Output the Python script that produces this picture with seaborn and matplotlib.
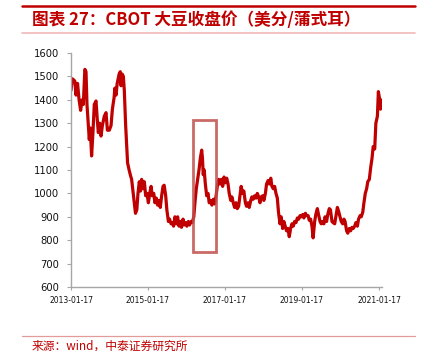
import numpy as np
import pandas as pd
import matplotlib
matplotlib.use("Agg")
import matplotlib.pyplot as plt
import matplotlib.dates as mdates
from matplotlib.lines import Line2D
from matplotlib.patches import Rectangle
import seaborn as sns

# ---------------- data ----------------
start_date = "2013-01-17"
# time offsets (years since start_date) and CBOT soybean close (cents/bushel)
years_offset = [
    0.000, 0.035, 0.100, 0.130, 0.170, 0.210, 0.250, 0.290, 0.320, 0.360,
    0.390, 0.415, 0.450, 0.475, 0.500, 0.535, 0.570, 0.605, 0.650, 0.685,
    0.710, 0.745, 0.780, 0.815, 0.865, 0.910, 0.945, 0.995, 1.040, 1.075,
    1.120, 1.140, 1.170, 1.200, 1.250, 1.280, 1.300, 1.330, 1.360, 1.385,
    1.420, 1.450, 1.470, 1.510, 1.540, 1.575, 1.610, 1.645, 1.675, 1.710,
    1.740, 1.775, 1.805, 1.835, 1.870, 1.905, 1.940, 1.975, 2.010, 2.045,
    2.080, 2.110, 2.150, 2.180, 2.215, 2.250, 2.285, 2.320, 2.355, 2.390,
    2.420, 2.460, 2.490, 2.530, 2.560, 2.600, 2.630, 2.665, 2.700, 2.735,
    2.770, 2.805, 2.840, 2.870, 2.910, 2.940, 2.980, 3.010, 3.050, 3.080,
    3.120, 3.150, 3.190, 3.220, 3.255, 3.290, 3.325, 3.360, 3.395, 3.415,
    3.435, 3.460, 3.490, 3.525, 3.560, 3.590, 3.630, 3.660, 3.700, 3.730,
    3.770, 3.800, 3.835, 3.870, 3.905, 3.940, 3.975, 4.010, 4.045, 4.080,
    4.110, 4.150, 4.180, 4.215, 4.250, 4.285, 4.320, 4.355, 4.390, 4.420,
    4.460, 4.490, 4.530, 4.560, 4.600, 4.630, 4.670, 4.700, 4.735, 4.770,
    4.805, 4.840, 4.875, 4.910, 4.940, 4.980, 5.010, 5.050, 5.080, 5.120,
    5.150, 5.190, 5.220, 5.255, 5.290, 5.325, 5.360, 5.390, 5.430, 5.460,
    5.500, 5.530, 5.565, 5.600, 5.635, 5.670, 5.705, 5.740, 5.775, 5.810,
    5.845, 5.880, 5.915, 5.950, 5.980, 6.020, 6.050, 6.090, 6.120, 6.160,
    6.190, 6.225, 6.260, 6.290, 6.330, 6.360, 6.400, 6.430, 6.470, 6.500,
    6.535, 6.570, 6.600, 6.640, 6.670, 6.710, 6.740, 6.780, 6.810, 6.850,
    6.880, 6.920, 6.950, 6.990, 7.020, 7.060, 7.090, 7.120, 7.160, 7.190,
    7.230, 7.265, 7.300, 7.330, 7.370, 7.400, 7.440, 7.470, 7.510, 7.540,
    7.580, 7.610, 7.645, 7.680, 7.710, 7.750, 7.785, 7.820, 7.850, 7.890,
    7.920, 7.960, 7.985, 8.010, 8.040, 8.050, 8.070,
]
prices = [
    1440, 1490, 1480, 1420, 1470, 1400, 1355, 1400, 1380, 1530,
    1520, 1380, 1290, 1230, 1280, 1160, 1260, 1380, 1395, 1310,
    1260, 1300, 1245, 1290, 1330, 1345, 1270, 1270, 1290, 1360,
    1410, 1450, 1420, 1470, 1510, 1520, 1460, 1510, 1500, 1440,
    1290, 1190, 1130, 1100, 1080, 1060, 1010, 960, 915, 930,
    1000, 1050, 1010, 1060, 1020, 1050, 990, 1000, 960, 1000,
    1030, 990, 1000, 960, 980, 950, 970, 940, 990, 1030,
    1035, 990, 930, 880, 890, 870, 875, 860, 900, 870,
    900, 860, 880, 855, 890, 865, 875, 860, 880, 865,
    880, 875, 900, 960, 1020, 1060, 1100, 1150, 1185, 1150,
    1080, 1100, 1040, 990, 1000, 960, 970, 950, 975, 955,
    990, 1030, 1060, 1040, 1060, 1030, 1070, 1045, 1065, 1040,
    1000, 970, 985, 960, 940, 960, 935, 945, 990, 1030,
    1000, 1010, 960, 945, 960, 940, 970, 985, 975, 990,
    980, 1000, 985, 960, 985, 990, 970, 1000, 1040, 1055,
    1040, 1065, 1030, 1020, 1030, 1000, 980, 920, 870, 900,
    850, 880, 860, 840, 850, 815, 850, 870, 860, 880,
    875, 895, 890, 905, 900, 910, 895, 915, 905, 905,
    885, 890, 860, 810, 880, 910, 935, 910, 880, 870,
    880, 870, 900, 880, 910, 935, 930, 880, 875, 870,
    900, 940, 925, 900, 880, 870, 890, 880, 840, 830,
    850, 840, 855, 850, 860, 875, 860, 890, 905, 900,
    920, 960, 1000, 1020, 1050, 1060, 1110, 1150, 1200, 1190,
    1300, 1330, 1435, 1410, 1360, 1400, 1385,
]
x_tick_labels = ["2013-01-17", "2015-01-17", "2017-01-17", "2019-01-17", "2021-01-17"]
y_ticks = [600, 700, 800, 900, 1000, 1100, 1200, 1300, 1400, 1500, 1600]
x_end = "2021-02-15"
# highlighted window
box_start, box_end = "2016-03-20", "2016-10-21"
box_low, box_high = 748, 1313

title = "图表 27：CBOT 大豆收盘价（美分/蒲式耳）"
source = "来源：wind，中泰证券研究所"

# ---------------- plot ----------------
sns.set_theme(style="white")
plt.rcParams["font.family"] = ["Noto Sans CJK SC", "DejaVu Sans"]

dates = pd.Timestamp(start_date) + pd.to_timedelta(np.array(years_offset) * 365.25, unit="D")
df = pd.DataFrame({"date": dates, "price": prices})

red = "#C00000"
fig = plt.figure(figsize=(4.25, 3.51), dpi=100)
ax = fig.add_axes([71 / 425, 1 - 287 / 351, (382 - 71) / 425, (287 - 53) / 351])

sns.lineplot(data=df, x="date", y="price", ax=ax, color=red, linewidth=2.3)

rect = Rectangle(
    (mdates.date2num(pd.Timestamp(box_start)), box_low),
    mdates.date2num(pd.Timestamp(box_end)) - mdates.date2num(pd.Timestamp(box_start)),
    box_high - box_low,
    fill=False, edgecolor="#C0504D", linewidth=2.0, alpha=0.85, zorder=5,
)
ax.add_patch(rect)

ax.set_xlim(pd.Timestamp(start_date), pd.Timestamp(x_end))
ax.set_ylim(y_ticks[0], y_ticks[-1])
ax.set_yticks(y_ticks)
ax.set_yticklabels([str(v) for v in y_ticks], fontsize=7.2, family="DejaVu Sans", color="#111111")
ax.set_xticks([pd.Timestamp(d) for d in x_tick_labels])
ax.set_xticklabels(x_tick_labels, fontsize=5.5, family="DejaVu Sans", color="#111111")
ax.set_xlabel("")
ax.set_ylabel("")

for side in ["top", "right"]:
    ax.spines[side].set_visible(False)
for side in ["left", "bottom"]:
    ax.spines[side].set_color("#A6A6A6")
    ax.spines[side].set_linewidth(1.0)
ax.tick_params(axis="y", direction="out", length=3, width=0.8, color="#A6A6A6", pad=5.5, left=True)
ax.tick_params(axis="x", direction="out", length=2.5, width=0.8, color="#A6A6A6", pad=4, bottom=True)
ax.grid(False)

# header / footer decorations
fig.add_artist(Line2D([22 / 425, 415 / 425], [1 - 6 / 351, 1 - 6 / 351], transform=fig.transFigure,
                      color=red, linewidth=1.8))
fig.add_artist(Line2D([22 / 425, 415 / 425], [1 - 33 / 351, 1 - 33 / 351], transform=fig.transFigure,
                      color="#F2B8B8", linewidth=1.2))
fig.add_artist(Line2D([22 / 425, 415 / 425], [1 - 335.5 / 351, 1 - 335.5 / 351], transform=fig.transFigure,
                      color="#E39A9A", linewidth=0.9))
fig.text(32 / 425, 1 - 20 / 351, title, color=red, fontsize=12, fontweight="bold",
         ha="left", va="center")
fig.text(32 / 425, 1 - 346 / 351, source, color=red, fontsize=8.5, ha="left", va="center")

fig.savefig("out.png", dpi=100)
